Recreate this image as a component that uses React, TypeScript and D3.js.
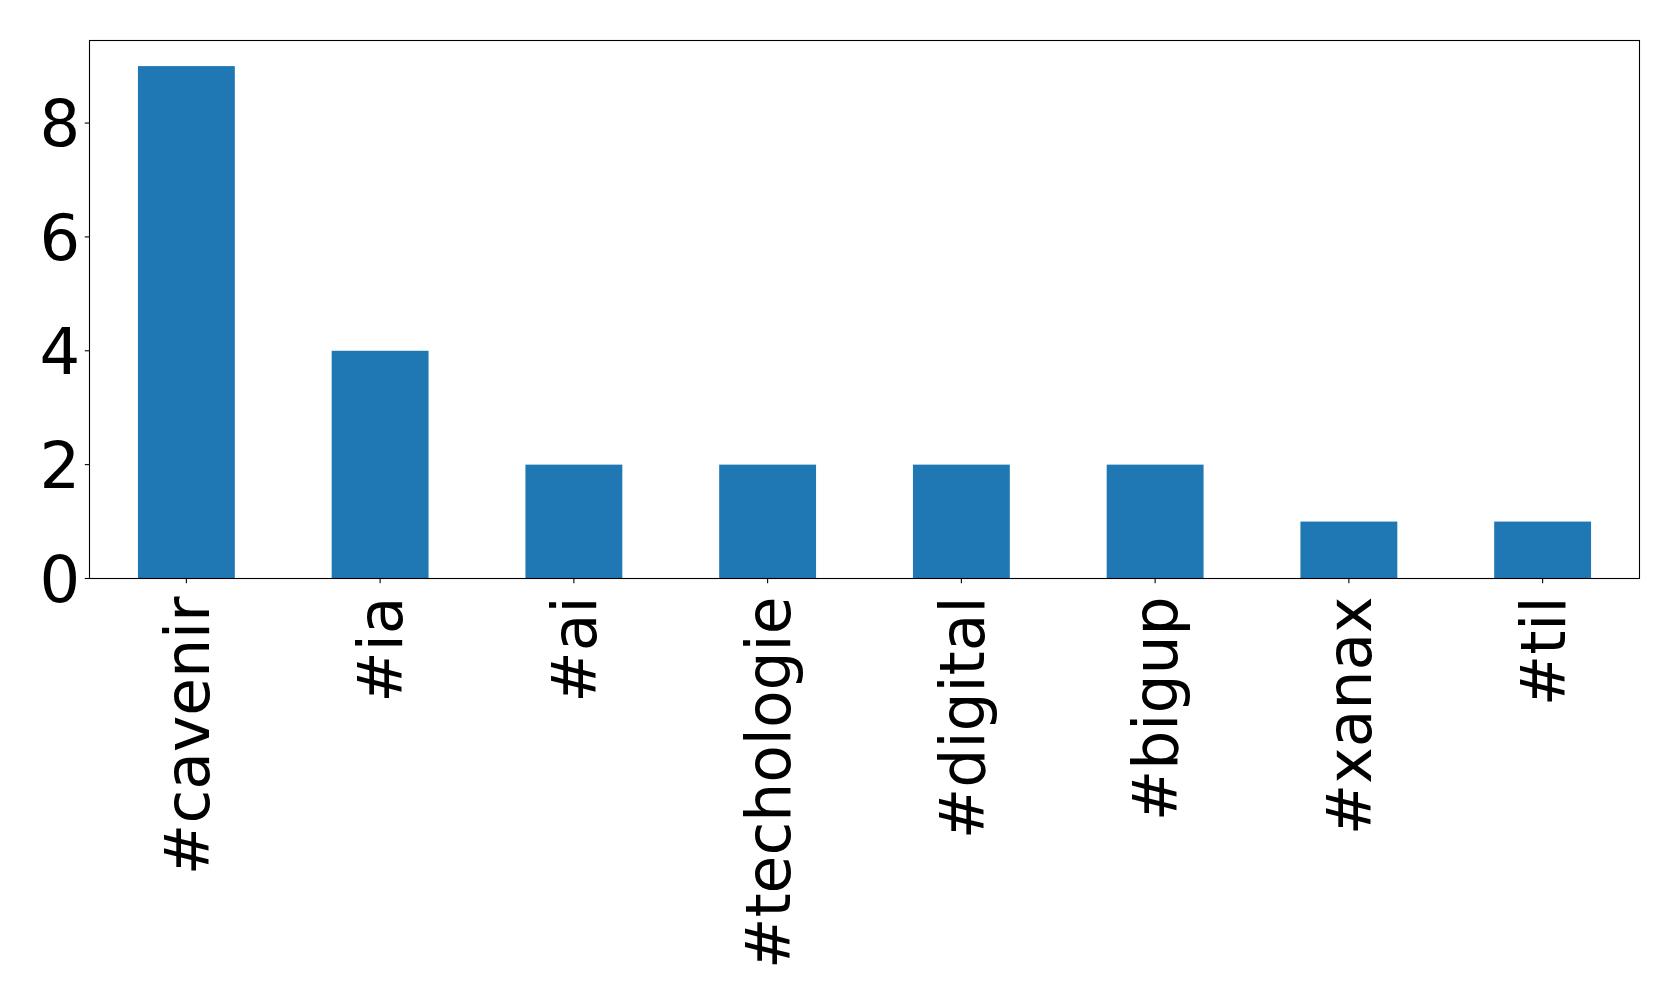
import React from "react";
import * as d3 from "d3";

const categories = ["#cavenir", "#ia", "#ai", "#techologie", "#digital", "#bigup", "#xanax", "#til"];
const values = [9, 4, 2, 2, 2, 2, 1, 1];
const yTicks = [0, 2, 4, 6, 8];

const W = 1679;
const H = 1007;
const left = 89.5;
const right = 1639.5;
const top = 40.5;
const bottom = 578.5;
const FONT = "DejaVu Sans";
const FSY = 64;
const FSX = 61.5;

export default function App() {
  const x = d3.scaleLinear().domain([-0.5, categories.length - 0.5]).range([left, right]);
  const y = d3.scaleLinear().domain([0, 9.45]).range([bottom, top]);
  const bw = x(0.25) - x(-0.25);
  return (
    <svg width={W} height={H} style={{ position: "absolute", left: 0, top: 0 }}>
      <rect x={0} y={0} width={W} height={H} fill="#fff" />
      {values.map((v, i) => (
        <rect key={i} x={x(i) - bw / 2} y={y(v)} width={bw} height={y(0) - y(v)} fill="#1f77b4" />
      ))}
      <rect x={left} y={top} width={right - left} height={bottom - top} fill="none" stroke="#000" strokeWidth={1.1} />
      {yTicks.map((t) => (
        <g key={t}>
          <line x1={left - 4.7} x2={left} y1={y(t)} y2={y(t)} stroke="#000" strokeWidth={1.1} />
          <text x={left - 9.4} y={y(t)} dy="0.36em" textAnchor="end" fontFamily={FONT} fontSize={FSY} fill="#000">{t}</text>
        </g>
      ))}
      {categories.map((c, i) => (
        <g key={c}>
          <line x1={x(i)} x2={x(i)} y1={bottom} y2={bottom + 4.7} stroke="#000" strokeWidth={1.1} />
          <text transform={`translate(${x(i)},${bottom + 18}) rotate(-90)`} dy="0.36em" textAnchor="end" fontFamily={FONT} fontSize={FSX} fill="#000">{c}</text>
        </g>
      ))}
    </svg>
  );
}
